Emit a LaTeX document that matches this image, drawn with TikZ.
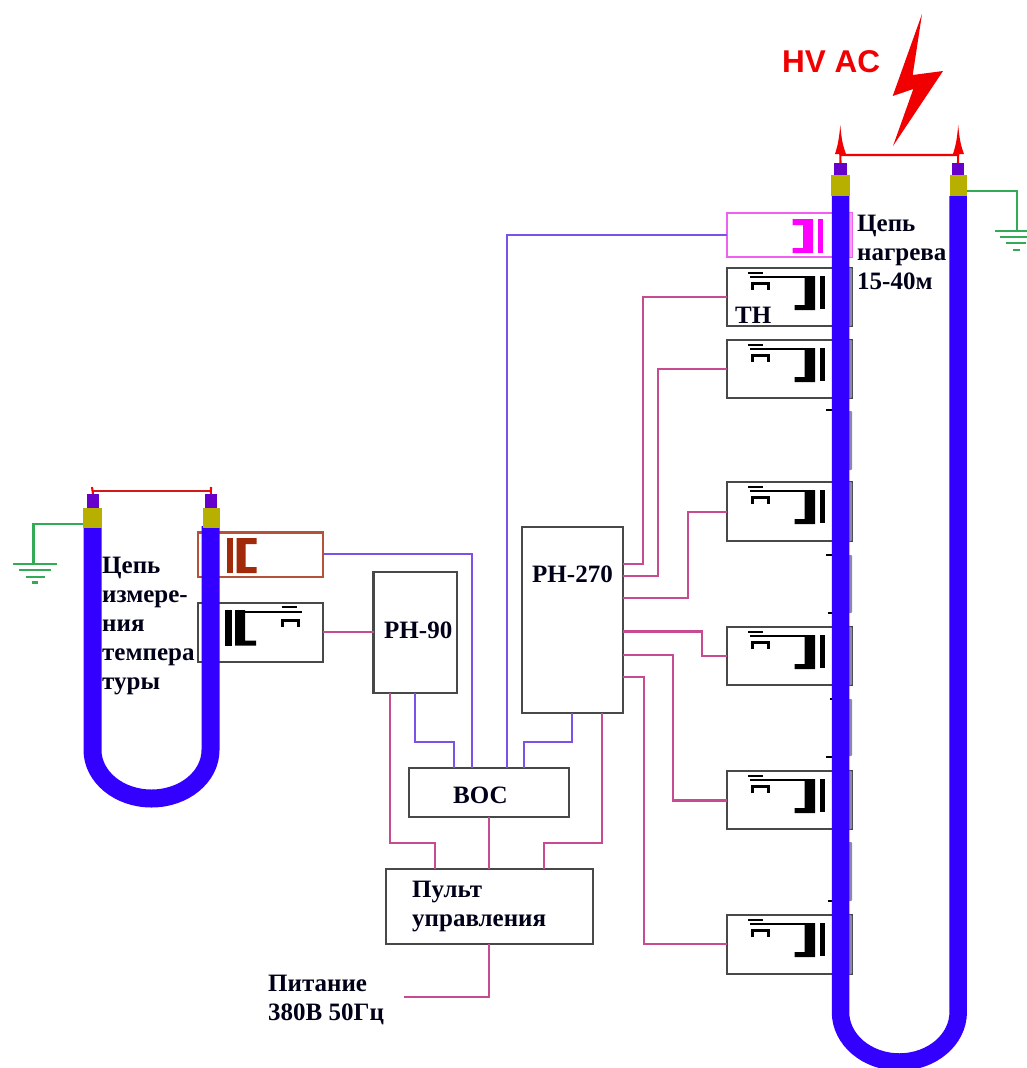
\documentclass[tikz,border=0pt]{standalone}
\usepackage{fontspec}
\setmainfont{Liberation Serif}
\newfontfamily\hvfont{Liberation Sans}
\definecolor{cablec}{HTML}{3300FF}
\definecolor{capc}{HTML}{6600CC}
\definecolor{sleevec}{HTML}{B8B000}
\definecolor{gndc}{HTML}{33AA55}
\definecolor{violetl}{HTML}{7B52E8}
\definecolor{pinkl}{HTML}{C84A90}
\definecolor{brownb}{HTML}{B5533A}
\definecolor{browns}{HTML}{A02A0A}
\definecolor{magb}{HTML}{F060F0}
\definecolor{mags}{HTML}{FF00FF}
\definecolor{edgec}{HTML}{484848}
\definecolor{sliver}{HTML}{8C88B4}
\definecolor{hvred}{HTML}{F00000}
\tikzset{
  blockbox/.style={draw=edgec,line width=2.1pt,fill=white},
  xfbox/.style={draw=edgec,line width=2.1pt,fill=white},
  magbox/.style={draw=magb,line width=2.1pt,fill=white},
  brbox/.style={draw=brownb,line width=2.1pt,fill=white},
  vline/.style={draw=violetl,line width=2.1pt},
  pline/.style={draw=pinkl,line width=2.1pt},
  gline/.style={draw=gndc,line width=2.1pt},
  cable/.style={draw=cablec,line width=18pt},
  lab/.style={font=\fontsize{25}{29}\selectfont\bfseries,inner sep=0pt,anchor=north west,align=left,text=black!90!blue},
  sleeve/.style={fill=sleevec,inner sep=0pt,outer sep=0pt},
  capn/.style={fill=capc,inner sep=0pt,outer sep=0pt},
}
\newcommand{\bx}[6]{%
  \pgfmathsetmacro{\bw}{#4-#2}\pgfmathsetmacro{\bh}{#5-#3}%
  \pgfmathsetmacro{\bcx}{(#2+#4)/2}\pgfmathsetmacro{\bcy}{(#3+#5)/2}%
  \node[#6,minimum width=\bw pt,minimum height=\bh pt,inner sep=0pt,outer sep=0pt] (#1) at (\bcx,\bcy) {};}
% right-hand transformer symbol; #1 left x of box, #2 top y of box
\newcommand{\xfsym}[2]{%
  \begin{scope}[shift={(#1,#2)}]
    \fill[black] (93,8) rectangle (97.5,41);
    \fill[black] (77.5,8) rectangle (88,42) (67.5,37) rectangle (88,42);
    \draw[black,line width=2.1pt] (23,8.7) -- (78,8.7);
    \draw[black,line width=2.1pt] (21,5.3) -- (36,5.3);
    \draw[black,line width=3pt] (25,22) -- (25,15) -- (41,15) -- (41,22);
  \end{scope}}
\begin{document}
\begin{tikzpicture}[x=1pt,y=-1pt]
\useasboundingbox (0,0) rectangle (1027,1068);
\clip (0,0) rectangle (1027,1068);
% ---- transformer boxes
\bx{mg}{727}{213}{852}{257}{magbox}
\bx{t1}{727}{268}{852}{326}{xfbox}
\bx{t2}{727}{340}{852}{398}{xfbox}
\bx{t3}{727}{482}{852}{541}{xfbox}
\bx{t4}{727}{627}{852}{685}{xfbox}
\bx{t5}{727}{771}{852}{829}{xfbox}
\bx{t6}{727}{915}{852}{974}{xfbox}
\bx{lbr}{198}{532.5}{323}{577}{brbox}
\bx{lbk}{198}{603}{323}{662}{xfbox}
% slivers of housings on the cable's right side
\foreach \a/\b in {268/326,340/398,411/470,482/541,555/613,627/685,699/756,771/829,842/901,915/974}
  \fill[sliver,rounded corners=1pt] (846,\a) rectangle (852,\b);
\fill[magb!60] (846,213) rectangle (852,257);
\foreach \a/\b in {826/410,826/555,828/613,830/699,826/757,828/901}
  \draw[black,line width=1.1pt] (\a,\b) -- (834,\b);
% ---- symbols
\xfsym{727}{268}\xfsym{727}{340}\xfsym{727}{482}\xfsym{727}{627}\xfsym{727}{771}\xfsym{727}{915}
\fill[mags] (818,219) rectangle (822.7,253);
\fill[mags] (803,219) rectangle (813,253) (792.7,219) rectangle (813,225) (792.7,248) rectangle (813,253);
\fill[browns] (226.7,538) rectangle (233.3,572.7);
\fill[browns] (236.7,538) rectangle (245.7,573) (236.7,538) rectangle (256.7,544) (236.7,567) rectangle (256.7,573);
\fill[black] (225,610) rectangle (231.7,645.7);
\fill[black] (235,610) rectangle (245,645.7) (235,640.7) rectangle (256,645.7);
\draw[black,line width=2.1pt] (235,612.3) -- (301.7,612.3);
\draw[black,line width=2.1pt] (281.7,607.3) -- (296.7,607.3);
\draw[black,line width=3pt] (282,626.7) -- (282,620.3) -- (298,620.3) -- (298,626.7);
% ---- blocks
\bx{rn}{373.5}{571.7}{456.7}{693.3}{blockbox}
\bx{rb}{521.7}{527.3}{623.3}{712.7}{blockbox}
\bx{voc}{409.3}{768.3}{569.3}{816.7}{blockbox}
\bx{pult}{386}{869.3}{592.7}{944}{blockbox}
\coordinate (feed) at (404,996.7);
% ---- connectors
\draw[vline] (mg.west |- 0,235) -- (507,235) -- (voc.north -| 507,0);
\draw[vline] (lbr.east |- 0,554.3) -- (472.3,554.3) -- (voc.north -| 472.3,0);
\draw[pline] (lbk.east |- 0,632.3) -- (rn.west |- 0,632.3);
\draw[vline] (rn.south -| 415,0) -- (415,741.7) -- (454,741.7) -- (voc.north -| 454,0);
\draw[pline] (rn.south -| 390.3,0) -- (390.3,842.7) -- (435,842.7) -- (pult.north -| 435,0);
\draw[vline] (rb.south -| 572,0) -- (572,741.7) -- (524.3,741.7) -- (voc.north -| 524.3,0);
\draw[pline] (rb.south -| 602.3,0) -- (602.3,842.7) -- (544.3,842.7) -- (pult.north -| 544.3,0);
\draw[pline] (voc.south -| 488.7,0) -- (pult.north -| 488.7,0);
\draw[pline] (pult.south -| 488.7,0) -- (488.7,996.7) -- (feed);
\draw[pline] (rb.east |- 0,564) -- (643.3,564) -- (643.3,296.7) -- (t1.west |- 0,296.7);
\draw[pline] (rb.east |- 0,575.7) -- (658.3,575.7) -- (658.3,369.3) -- (t2.west |- 0,369.3);
\draw[pline] (rb.east |- 0,597.9) -- (688.3,597.9) -- (688.3,512) -- (t3.west |- 0,512);
\draw[pline] (rb.east |- 0,631.5) -- (701.7,631.5) -- (701.7,656.3) -- (t4.west |- 0,656.3);
\draw[pline] (rb.east |- 0,654.7) -- (672.7,654.7) -- (672.7,800.5) -- (t5.west |- 0,800.5);
\draw[pline] (rb.east |- 0,677) -- (644,677) -- (644,944.4) -- (t6.west |- 0,944.4);
% ---- cables
\draw[cable,line width=17.5pt] (958.2,196) -- (958.2,1012) arc[start angle=360,end angle=180,x radius=58.85pt,y radius=50pt] -- (840.5,196);
\draw[cable] (210.5,526) -- (210.5,750) arc[start angle=360,end angle=180,x radius=59pt,y radius=48.5pt] -- (92.5,526);
% ---- sleeves and caps
\bx{ya}{831}{175}{849.5}{196}{sleeve}
\bx{yb}{950}{175}{967}{196}{sleeve}
\bx{pa}{834}{163}{847}{175}{capn}
\bx{pb}{952}{163}{964}{175}{capn}
\bx{yc}{83}{508}{102}{528}{sleeve}
\bx{yd}{202.5}{508}{219.5}{528}{sleeve}
\bx{pc}{86.7}{494}{99.3}{508}{capn}
\bx{pd}{204.7}{494}{217}{508}{capn}
% ---- HV lead
\draw[hvred,line width=2.1pt] (pa.north) -- (840.3,155) -- (958.2,155) -- (pb.north);
\fill[hvred] (840.3,125) .. controls (841.5,140) and (843,146) .. (846,154) -- (835,154) .. controls (837.5,146) and (839,140) .. cycle;
\fill[hvred] (958.2,125) .. controls (959.5,140) and (961,146) .. (964,154) -- (953,154) .. controls (955.5,146) and (957,140) .. cycle;
\draw[red!80!black!90!white,line width=1.6pt] (92.5,490.7) -- (210.5,490.7);
\draw[red,line width=2.1pt] (pc.north) -- (92,487);
\draw[red,line width=2.1pt] (pd.north) -- (211,487);
\node[font=\hvfont\bfseries\fontsize{31.5}{33}\selectfont,text=hvred,inner sep=0pt,anchor=base west] (hv) at (782,72) {HV AC};
\fill[hvred] (922,14) -- (892.7,96) -- (913.3,89) -- (893,146) -- (943,71) -- (912.7,75) -- cycle;
% ---- grounds
\coordinate (g1) at (33.5,564);
\coordinate (g2) at (1016.7,230.7);
\draw[gline] (yc.west |- 0,524) -- (33.5,524) -- (g1);
\draw[gline] (13,564) -- (57,564) (19,570) -- (51,570) (26,577) -- (45,577) (32,582.5) -- (38,582.5);
\draw[gline] (yb.east |- 0,190.7) -- (1016.7,190.7) -- (g2);
\draw[gline] (995,231) -- (1027,231) (1000,236.7) -- (1027,236.7) (1006,242.7) -- (1026,242.7) (1013,250) -- (1020,250);
% ---- labels
\node[lab] (l1) at (857,215) {Цепь\\нагрева\\15-40м};
\node[lab] (l2) at (102,557) {Цепь\\измере-\\ния\\темпера\\туры};
\node[lab] (l3) at (735,306.5) {ТН};
\node[lab] (l4) at (384,621.5) {РН-90};
\node[lab] (l5) at (532,565.5) {РН-270};
\node[lab] (l6) at (453,786.7) {ВОС};
\node[lab] (l7) at (412,880.7) {Пульт\\управления};
\node[lab] (l8) at (268,975) {Питание\\380В 50Гц};
\end{tikzpicture}
\end{document}
